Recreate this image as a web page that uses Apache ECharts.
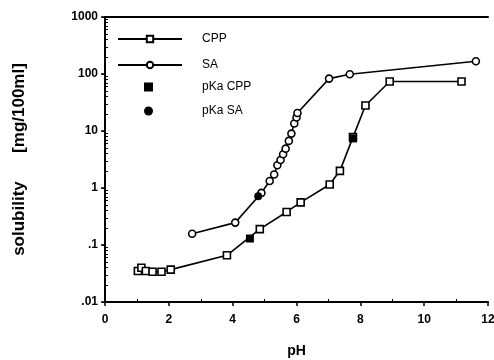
<!DOCTYPE html>
<html lang="en">
<head>
    <meta charset="UTF-8">
    <script src="https://cdn.jsdelivr.net/npm/echarts@6/dist/echarts.min.js"></script>
    <title>solubility vs pH</title>
    <style>
        html, body { margin: 0; padding: 0; background: #fff; }
        #chart { width: 494px; height: 360px; }
    </style>
</head>
<body>
    <div id="chart"></div>
    <script>
        // CPP
        var cppPH = [1.03, 1.14, 1.28, 1.49, 1.77, 2.06, 3.82, 4.85, 5.69, 6.13, 7.04, 7.36, 7.77, 8.16, 8.92, 11.17];
        var cppSol = [0.035, 0.040, 0.035, 0.034, 0.034, 0.037, 0.066, 0.19, 0.38, 0.56, 1.15, 2.0, 7.8, 28, 74, 74];
        // SA
        var saPH = [2.73, 4.08, 4.90, 5.16, 5.30, 5.40, 5.50, 5.58, 5.66, 5.76, 5.84, 5.93, 6.00, 6.03, 7.02, 7.67, 11.62];
        var saSol = [0.158, 0.247, 0.82, 1.33, 1.72, 2.5, 3.1, 3.9, 4.9, 6.7, 9.0, 13.5, 17.2, 20.7, 83, 99, 167];
        // pKa 点
        var pkaCppPH = [4.54, 7.77];
        var pkaCppSol = [0.13, 7.4];
        var pkaSaPH = [4.80];
        var pkaSaSol = [0.72];
        // 坐标轴刻度
        var yTickLabels = ['.01', '.1', '1', '10', '100', '1000'];

        function zip(xs, ys) {
            return xs.map(function (x, i) { return [x, ys[i]]; });
        }

        var font = 'Liberation Sans, Arial, sans-serif';
        var axisLine = { lineStyle: { color: '#000', width: 2 } };
        var legendText = { color: '#000', fontFamily: font, fontSize: 12 };

        var myChart = echarts.init(document.getElementById('chart'));
        var option = {
            animation: false,
            backgroundColor: '#fff',
            grid: { left: 105, right: 6, top: 17, bottom: 58, outerBoundsMode: 'none' },
            legend: [{
                // 折线图例
                orient: 'vertical',
                left: 112,
                top: 28,
                itemWidth: 64,
                itemHeight: 8,
                itemGap: 14,
                lineStyle: { width: 2 },
                textStyle: Object.assign({ padding: [0, 0, 0, 15] }, legendText),
                data: ['CPP', 'SA']
            }, {
                // pKa 图例
                orient: 'vertical',
                left: 139,
                top: 76,
                itemWidth: 9,
                itemHeight: 9,
                itemGap: 12,
                textStyle: Object.assign({ padding: [0, 0, 0, 44] }, legendText),
                data: ['pKa CPP', 'pKa SA']
            }],
            xAxis: [{
                type: 'value',
                min: 0, max: 12, interval: 2,
                name: 'pH',
                nameLocation: 'middle',
                nameGap: 42,
                nameTextStyle: { color: '#000', fontFamily: font, fontSize: 14, fontWeight: 'bold' },
                axisLine: axisLine,
                axisTick: { show: true, length: 4, lineStyle: { color: '#000', width: 1.5 } },
                minorTick: { show: true, splitNumber: 2, length: -3, lineStyle: { color: '#000' } },
                axisLabel: { color: '#000', fontFamily: font, fontSize: 12, fontWeight: 'bold', margin: 12 },
                splitLine: { show: false }
            }, {
                type: 'value',
                position: 'top',
                min: 0, max: 12, interval: 2,
                axisLine: axisLine,
                axisTick: { show: false },
                axisLabel: { show: false },
                splitLine: { show: false }
            }],
            yAxis: [{
                type: 'log',
                logBase: 10,
                min: 0.01, max: 1000,
                name: 'solubility      [mg/100ml]',
                nameLocation: 'middle',
                nameGap: 77,
                nameTextStyle: { color: '#000', fontFamily: font, fontSize: 17, fontWeight: 'bold' },
                axisLine: axisLine,
                axisTick: { show: true, length: 4, lineStyle: { color: '#000', width: 1.5 } },
                minorTick: { show: true, splitNumber: 9, length: -3, lineStyle: { color: '#000' } },
                axisLabel: {
                    color: '#000', fontFamily: font, fontSize: 12, fontWeight: 'bold', margin: 7,
                    formatter: function (v) {
                        var i = Math.round(Math.log10(v)) + 2;
                        return yTickLabels[i] || '';
                    }
                },
                splitLine: { show: false }
            }, {
                type: 'log',
                logBase: 10,
                min: 0.01, max: 1000,
                position: 'right',
                axisLine: axisLine,
                axisTick: { show: true, inside: true, length: 3, lineStyle: { color: '#000' } },
                minorTick: { show: false },
                axisLabel: { show: false },
                splitLine: { show: false }
            }],
            series: [{
                name: 'CPP',
                type: 'line',
                data: zip(cppPH, cppSol),
                symbol: 'rect',
                symbolSize: 7,
                lineStyle: { color: '#000', width: 1.6 },
                itemStyle: { color: '#fff', borderColor: '#000', borderWidth: 1.6 },
                z: 3
            }, {
                name: 'SA',
                type: 'line',
                data: zip(saPH, saSol),
                symbol: 'circle',
                symbolSize: 7,
                lineStyle: { color: '#000', width: 1.6 },
                itemStyle: { color: '#fff', borderColor: '#000', borderWidth: 1.6 },
                z: 3
            }, {
                name: 'pKa CPP',
                type: 'scatter',
                data: zip(pkaCppPH, pkaCppSol),
                symbol: 'rect',
                symbolSize: 8,
                itemStyle: { color: '#000', opacity: 1 },
                z: 4
            }, {
                name: 'pKa SA',
                type: 'scatter',
                data: zip(pkaSaPH, pkaSaSol),
                symbol: 'circle',
                symbolSize: 8,
                itemStyle: { color: '#000', opacity: 1 },
                z: 4
            }]
        };
        myChart.setOption(option);
    </script>
</body>
</html>
